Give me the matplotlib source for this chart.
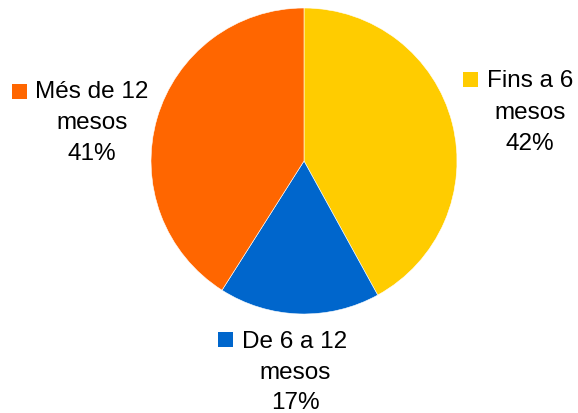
import matplotlib.pyplot as plt

labels = [["Fins a 6", "mesos"], ["De 6 a 12", "mesos"], ["Més de 12", "mesos"]]
values = [42, 17, 41]
colors = ["#FFCC00", "#0066CC", "#FF6600"]

W, H = 578, 414
fig = plt.figure(figsize=(W / 100, H / 100), dpi=100)
plt.rcParams["font.family"] = ["Liberation Sans", "DejaVu Sans"]

# pie centre (304, 162) px, radius 153 px
cx, cy, r = 304, 162, 153
ax = fig.add_axes([(cx - r) / W, (H - cy - r) / H, 2 * r / W, 2 * r / H])
ax.pie(values, colors=colors, startangle=90, counterclock=False, radius=1,
       wedgeprops=dict(edgecolor="white", linewidth=0.4))
ax.set_xlim(-1, 1)
ax.set_ylim(-1, 1)
ax.set_aspect("equal")
ax.axis("off")

# label blocks in pixels: text centre x, baselines, square left x, square top y
label_pos = [
    (530, [87, 119, 150], 463, 73),
    (295, [348, 379, 409], 218, 333),
    (92, [98, 129, 160], 12, 85),
]
for (tx, bases, sx, sy), lab, v, c in zip(label_pos, labels, values, colors):
    lines = lab + [f"{v}%"]
    for line, b in zip(lines, bases):
        fig.text(tx / W, 1 - b / H, line, ha="center", va="baseline",
                 fontsize=17.5, color="black")
    fig.patches.append(plt.Rectangle((sx / W, 1 - (sy + 15) / H), 15 / W, 15 / H,
                                     facecolor=c, edgecolor="none",
                                     transform=fig.transFigure, figure=fig))

fig.savefig("out.png", dpi=100)
